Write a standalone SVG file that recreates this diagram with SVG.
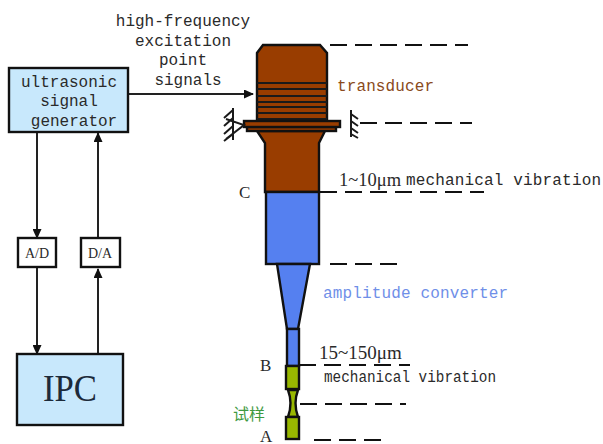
<svg xmlns="http://www.w3.org/2000/svg" width="603" height="444" viewBox="0 0 603 444">
<style>
.m{font-family:"Liberation Mono","DejaVu Sans Mono",monospace;font-size:16px;fill:#2a2a2a}
.s{font-family:"Liberation Serif","Times New Roman",serif;fill:#2a2a2a}
.b{stroke:#111;stroke-width:2.4}
.h{stroke:#1a1a1a;stroke-width:2;fill:none}
.d{stroke:#111;stroke-width:2;stroke-dasharray:17 8;fill:none}
.c{stroke:#222;stroke-width:2;fill:none}
.w{fill:#993d00;stroke:#111;stroke-width:2.4}
.u{fill:#5580f0;stroke:#111;stroke-width:2.4}
.g{fill:#99b800;stroke:#111;stroke-width:2.4}
</style>
<defs><marker id="a" markerWidth="11" markerHeight="9" refX="9" refY="4.5" orient="auto" markerUnits="userSpaceOnUse"><path d="M0 0L10 4.5L0 9z" fill="#111"/></marker></defs>
<rect width="603" height="444" fill="#fff"/>
<g id="connectors">
<path class="c" d="M37 132V238" marker-end="url(#a)"/>
<path class="c" d="M98 238V133" marker-end="url(#a)"/>
<path class="c" d="M37 267V354" marker-end="url(#a)"/>
<path class="c" d="M98 354V269" marker-end="url(#a)"/>
<path class="c" d="M129 94H253" marker-end="url(#a)"/>
</g>
<g id="generator"><rect x="9" y="68" width="119" height="64" fill="#c8e8fc" class="b"/>
<text class="m" x="69" y="87" text-anchor="middle">ultrasonic</text>
<text class="m" x="69" y="106" text-anchor="middle">signal</text>
<text class="m" x="74" y="126" text-anchor="middle">generator</text></g>
<g id="ad"><rect x="18" y="238" width="38" height="29" fill="#fff" class="b"/><text class="s" x="37" y="258" font-size="14" text-anchor="middle">A/D</text></g>
<g id="da"><rect x="81" y="238" width="39" height="29" fill="#fff" class="b"/><text class="s" x="100" y="258" font-size="14" text-anchor="middle">D/A</text></g>
<g id="ipc"><rect x="17" y="354" width="106" height="71" fill="#c8e8fc" class="b"/><text class="s" x="70" y="401" font-size="38" textLength="54" lengthAdjust="spacingAndGlyphs" text-anchor="middle" style="fill:#1c2a3a">IPC</text></g>
<g id="signal-label">
<text class="m" x="183" y="26" text-anchor="middle">high-frequency</text>
<text class="m" x="183" y="46" text-anchor="middle">excitation</text>
<text class="m" x="183" y="65" text-anchor="middle">point</text>
<text class="m" x="188" y="85" text-anchor="middle">signals</text></g>
<g id="horn">
<path class="w" d="M263 45H320L327 53V121H257V53Z"/>
<path class="h" d="M257 83H327M257 89H327M257 96H327M257 102H327M257 107H327M257 113H327M257 119H327"/>
<path class="w" d="M257 131H325L319 143V192H265V143Z"/>
<rect class="w" x="247" y="127" width="89" height="4"/>
<rect class="w" x="244" y="121" width="96" height="6"/>
<rect class="u" x="266" y="192" width="53" height="72"/>
<path class="u" d="M277 264H310L298 329H287Z"/>
<rect class="u" x="287" y="329" width="12" height="37"/>
<rect class="g" x="286" y="366" width="13" height="23"/>
<path class="g" d="M288 390H298Q293 403 298 417H288Q293 403 288 390Z"/>
<rect class="g" x="286" y="417" width="13" height="22"/>
</g>
<g id="supports">
<path class="h" d="M233 108V140M233 110L224 118M233 118L224 126M233 126L224 134M233 134L224 141M226 119L244 125L226 139"/>
<path class="h" d="M351 110V137M351 114L358 119M351 121L358 126M351 128L358 133M351 134L358 138"/>
</g>
<g id="levels">
<path class="d" d="M330 45H468"/>
<path class="d" d="M360 123H472"/>
<path class="d" d="M320 192H484"/>
<path class="d" d="M330 264H398"/>
<path class="d" d="M299 365H410"/>
<path class="d" d="M300 404H406"/>
<path class="d" d="M314 440H382"/>
</g>
<g id="labels">
<text class="m" x="337" y="91" style="fill:#8a4a20" textLength="97">transducer</text>
<text class="s" x="339" y="186" font-size="18.5">1~10μm</text>
<text class="m" x="406" y="185" textLength="195">mechanical vibration</text>
<text class="s" x="239" y="198" font-size="17">C</text>
<text class="m" x="323" y="298" style="fill:#6f8fe8" textLength="185">amplitude converter</text>
<text class="s" x="319" y="359" font-size="19">15~150μm</text>
<text class="m" x="324" y="382" textLength="172" lengthAdjust="spacingAndGlyphs">mechanical vibration</text>
<text class="s" x="260" y="371" font-size="17">B</text>
<text x="233" y="420" font-size="16" style="fill:#3f9a3f;font-family:'Noto Sans CJK SC',sans-serif">试样</text>
<text class="s" x="260" y="442" font-size="17">A</text>
</g>
</svg>
